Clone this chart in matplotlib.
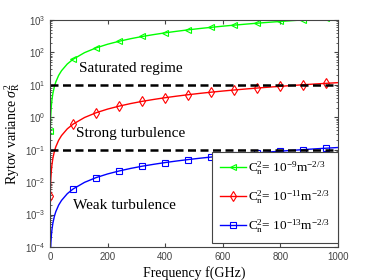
import matplotlib
matplotlib.use('Agg')
import matplotlib.pyplot as plt

# frequency points (GHz) and Rytov variance
freq = [1, 2, 3, 5, 7, 10, 15, 20, 30, 40, 60, 80, 120, 160, 200, 240, 280,
        320, 360, 400, 440, 480, 520, 560, 600, 640, 680, 720, 760, 800,
        840, 880, 920, 960, 1000]
rytov_cn9 = [0.37, 0.83, 1.33, 2.42, 3.58, 5.43, 8.72, 12.2, 19.6, 27.3, 44.0,
             61.4, 98.6, 138, 179, 221, 265, 310, 355, 402, 449, 497, 546,
             595, 645, 695, 746, 798, 850, 901, 955, 1008, 1062, 1115, 1170]
rytov_cn11 = [0.0037, 0.0083, 0.0133, 0.0242, 0.0358, 0.0543, 0.0872, 0.122,
              0.196, 0.273, 0.440, 0.614, 0.986, 1.38, 1.79, 2.21, 2.65, 3.10,
              3.55, 4.02, 4.49, 4.97, 5.46, 5.95, 6.45, 6.95, 7.46, 7.98,
              8.50, 9.01, 9.55, 10.08, 10.62, 11.15, 11.70]
rytov_cn13 = [0.000037, 0.000083, 0.000133, 0.000242, 0.000358, 0.000543,
              0.000872, 0.00122, 0.00196, 0.00273, 0.00440, 0.00614, 0.00986,
              0.0138, 0.0179, 0.0221, 0.0265, 0.0310, 0.0355, 0.0402, 0.0449,
              0.0497, 0.0546, 0.0595, 0.0645, 0.0695, 0.0746, 0.0798, 0.0850,
              0.0901, 0.0955, 0.1008, 0.1062, 0.1115, 0.1170]
marker_freq = [1, 80, 160, 240, 320, 400, 480, 560, 640, 720, 800, 880, 960]
thresholds = [10, 0.1]
labels = [r'C$_\mathrm{n}^2$= 10$^{-9}$m$^{-2/3}$',
          r'C$_\mathrm{n}^2$= 10$^{-11}$m$^{-2/3}$',
          r'C$_\mathrm{n}^2$= 10$^{-13}$m$^{-2/3}$']
regimes = [('Saturated regime', 100, 33),
           ('Strong turbulence', 92, 0.32),
           ('Weak turbulence', 80, 0.0019)]

plt.rcParams['mathtext.fontset'] = 'custom'
plt.rcParams['mathtext.rm'] = 'Liberation Serif'
plt.rcParams['mathtext.it'] = 'Liberation Serif:italic'
plt.rcParams['mathtext.sf'] = 'Liberation Sans'

fig = plt.figure(figsize=(3.74, 2.80), dpi=100)
ax = fig.add_axes([50 / 374, 33 / 280, 288 / 374, 227 / 280])

marks = [freq.index(m) for m in marker_freq]
ax.plot(freq, rytov_cn9, color='#00ff00', lw=1, marker='<', mfc='none',
        ms=5, mew=0.8, markevery=marks, label=labels[0])
ax.plot(freq, rytov_cn11, color='#ff0000', lw=1, marker='d', mfc='none',
        ms=5, mew=0.8, markevery=marks, label=labels[1])
ax.plot(freq, rytov_cn13, color='#0000ff', lw=1, marker='s', mfc='none',
        ms=4, mew=0.8, markevery=marks, label=labels[2])
for t in thresholds:
    ax.plot([0, 1000], [t, t], 'k--', lw=1.8, dashes=(3.2, 1.8))

for txt, x, y in regimes:
    ax.text(x, y, txt, family='Liberation Serif', fontsize=11, va='center')

ax.set_yscale('log')
ax.set_xlim(0, 1000)
ax.set_ylim(1e-4, 1e3)
ax.set_xticks([0, 200, 400, 600, 800, 1000])
ax.set_yticks([10.0 ** k for k in range(-4, 4)])
ax.set_yticklabels([r'$\mathsf{10^{%d}}$' % k for k in range(-4, 4)])
for lab in ax.get_xticklabels():
    lab.set_family('Liberation Sans')
ax.tick_params(which='both', direction='in', top=True, right=True,
               labelsize=7, labelcolor='#444444', color='#444444')
ax.tick_params(which='major', length=3)
ax.tick_params(which='minor', length=1.5)
for s in ax.spines.values():
    s.set_color('#444444')
    s.set_linewidth(0.8)

ax.set_xlabel('Frequency f(GHz)', family='Liberation Serif', fontsize=10,
              labelpad=3)
ax.set_ylabel(r'Rytov variance $\sigma_\mathrm{R}^2$', family='Liberation Serif',
              fontsize=10, labelpad=2)

leg = ax.legend(loc='lower right', bbox_to_anchor=(1.0, 4 / 227),
                prop={'family': 'Liberation Serif', 'size': 9.5},
                fancybox=False, edgecolor='#444444', framealpha=1,
                borderaxespad=0, handlelength=2.0, labelspacing=0.85,
                borderpad=0.6, handletextpad=0.15)
leg.get_frame().set_linewidth(0.8)

plt.savefig('out.png', dpi=100)
